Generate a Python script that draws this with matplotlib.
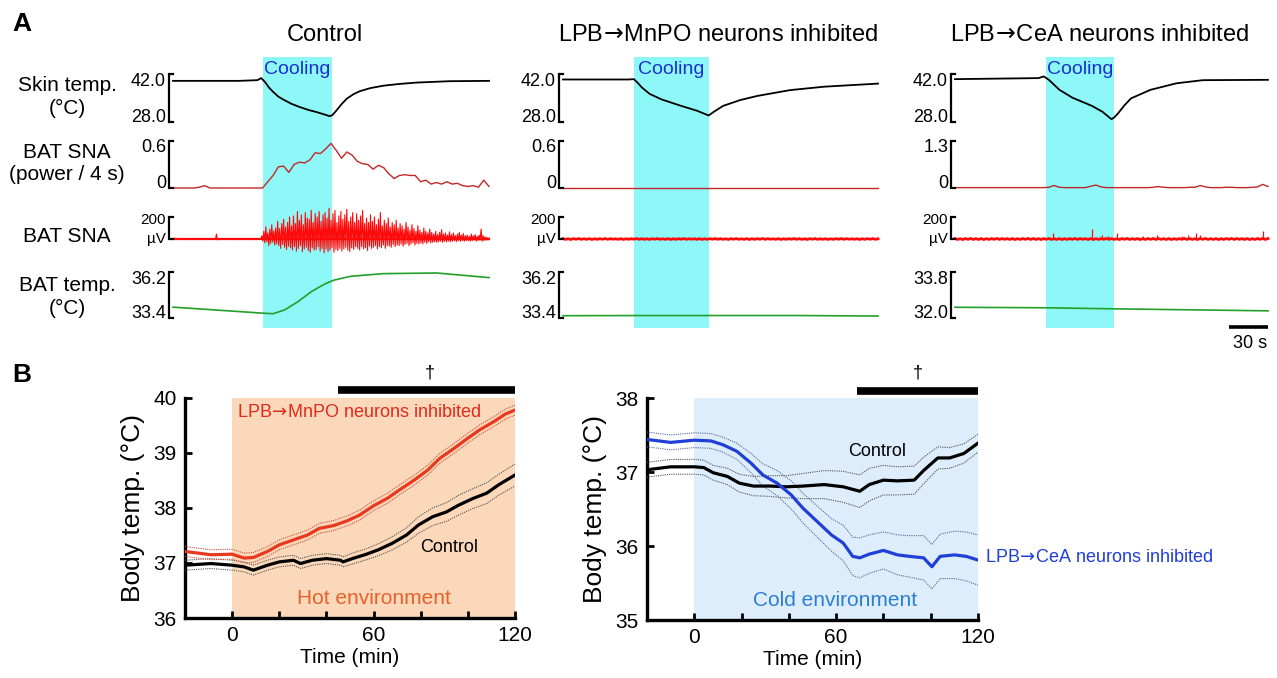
import numpy as np
import matplotlib
matplotlib.use('Agg')
import matplotlib.pyplot as plt
from matplotlib.lines import Line2D

plt.rcParams['font.family'] = ['Liberation Sans', 'DejaVu Sans']
plt.rcParams['mathtext.fontset'] = 'dejavusans'

W, H = 1277, 678

# ================= Panel A data =================
time_span_s = 240
scale_bar_s = 30
cooling_ctrl = (68, 121)
cooling_mnpo = (54, 111)
cooling_cea = (70, 122)

# Skin temperature (deg C)
skin_t_ctrl = [0, 50, 64, 67, 70, 73, 76, 80, 84, 90, 96, 103, 109, 115, 119, 121, 124, 128, 132, 137, 142, 150, 160, 172, 185, 210, 240]
skin_ctrl = [40.0, 40.0, 40.2, 40.8, 39.6, 38.0, 36.8, 35.4, 34.5, 33.3, 32.4, 31.5, 30.9, 30.2, 29.7, 30.0, 31.3, 33.2, 34.8, 36.1, 37.0, 37.9, 38.6, 39.1, 39.5, 39.9, 40.0]
skin_t_mnpo = [0, 50, 54, 57, 60, 66, 75, 90, 102, 111, 115, 122, 135, 148, 173, 199, 240]
skin_mnpo = [40.4, 40.4, 40.5, 39.4, 38.1, 36.2, 34.6, 32.7, 31.3, 29.9, 31.0, 32.7, 34.4, 35.6, 37.3, 38.3, 39.2]
skin_t_cea = [0, 64, 68, 72, 80, 90, 105, 113, 120, 122, 125, 130, 135, 150, 170, 190, 240]
skin_cea = [40.5, 40.8, 41.3, 40.3, 37.4, 35.1, 32.7, 31.0, 28.8, 29.3, 30.5, 32.9, 34.9, 37.4, 39.3, 40.2, 40.3]

# BAT SNA power / 4 s (one value per 4 s bin, 0..240 s)
pow_ctrl = [0.00, 0.00, 0.00, 0.00, 0.00, 0.01, 0.03, 0.00, 0.00, 0.00, 0.00, 0.00, 0.00, 0.00, 0.00, 0.00, 0.00,
            0.00, 0.08, 0.16, 0.27, 0.28, 0.20, 0.30, 0.33, 0.32, 0.36, 0.45, 0.44, 0.50, 0.57, 0.48, 0.38, 0.46,
            0.42, 0.34, 0.31, 0.30, 0.24, 0.29, 0.26, 0.18, 0.12, 0.16, 0.17, 0.16, 0.16, 0.08, 0.10, 0.05, 0.07,
            0.05, 0.08, 0.05, 0.06, 0.03, 0.02, 0.03, 0.01, 0.10, 0.02]
pow_mnpo = [0.00, 0.00, 0.00, 0.00, 0.00, 0.00, 0.00, 0.00, 0.00, 0.00, 0.00, 0.00, 0.00, 0.00, 0.00, 0.00, 0.00,
            0.00, 0.00, 0.00, 0.00, 0.00, 0.00, 0.00, 0.00, 0.00, 0.00, 0.00, 0.00, 0.00, 0.00, 0.00, 0.00, 0.00,
            0.00, 0.00, 0.00, 0.00, 0.00, 0.00, 0.00, 0.00, 0.00, 0.00, 0.00, 0.00, 0.00, 0.00, 0.00, 0.00, 0.00,
            0.00, 0.00, 0.00, 0.00, 0.00, 0.00, 0.00, 0.00, 0.00, 0.00]
pow_cea = [0.01, 0.01, 0.01, 0.01, 0.01, 0.01, 0.01, 0.01, 0.01, 0.01, 0.01, 0.01, 0.01, 0.01, 0.01, 0.01, 0.01,
           0.01, 0.02, 0.07, 0.02, 0.01, 0.01, 0.01, 0.01, 0.01, 0.05, 0.08, 0.03, 0.01, 0.01, 0.01, 0.01, 0.01,
           0.01, 0.01, 0.01, 0.01, 0.02, 0.04, 0.02, 0.01, 0.01, 0.01, 0.01, 0.02, 0.02, 0.07, 0.03, 0.01, 0.01,
           0.01, 0.02, 0.02, 0.01, 0.01, 0.01, 0.02, 0.03, 0.10, 0.04]

# Raw BAT SNA (uV), control: one sample per 0.75 s
raw_dt_ctrl = 0.75
raw_ctrl = [
    # 0 - 66.75 s (quiet)
    4, -5, 6, -3, 5, -6, 3, -4, 6, -5, 4, -3, 5, -6, 4, -5,
    5, -4, 3, -6, 5, -5, 6, -4, 4, -6, 5, -3, 6, -5, 4, -4,
    6, -5, 4, -6, 3, -5, 5, -4, 6, -3, 4, -5, 45, -8, 5, -6,
    4, -5, 6, -4, 5, -3, 4, -6, 5, -5, 6, -4, 3, -5, 5, -6,
    6, -4, 5, -5, 4, -6, 5, -3, 6, -5, 4, -4, 5, -6, 3, -5,
    5, -4, 6, -5, 4, -6, 5, -4, 6, -5,
    # 67.5 s onward (cooling-evoked burst)
    30, -20, 70, -35, 110, -25, 55, -60, 90, -40, 130, -30, 75, -55, 100, -45,
    160, -60, 95, -85, 140, -50, 180, -75, 110, -95, 150, -65, 200, -80, 120, -100,
    210, -70, 140, -110, 250, -85, 170, -60, 220, -115, 130, -90, 240, -75, 190, -105,
    180, -120, 260, -80, 150, -100, 230, -95, 200, -70, 250, -110, 160, -85, 220, -125,
    240, -90, 190, -115, 280, -100, 170, -80, 230, -120, 260, -95, 150, -105, 210, -85,
    250, -110, 180, -90, 220, -75, 270, -100, 160, -115, 200, -80, 240, -95, 150, -70,
    230, -85, 170, -100, 210, -70, 260, -90, 140, -80, 190, -105, 150, -65, 220, -85,
    160, -75, 200, -60, 130, -90, 180, -70, 240, -80, 120, -55, 170, -85, 140, -60,
    190, -65, 110, -75, 150, -50, 130, -70, 170, -55, 100, -60, 140, -45, 120, -65,
    90, -50, 150, -40, 110, -60, 80, -45, 130, -35, 95, -55, 70, -40, 120, -45,
    80, -35, 60, -45, 100, -30, 70, -40, 55, -25, 90, -35, 60, -30, 45, -25,
    70, -30, 40, -25, 60, -20, 85, -30, 45, -20, 55, -25, 35, -20, 65, -25,
    40, -20, 55, -15, 30, -25, 45, -15, 60, -20, 35, -15, 50, -20, 30, -15,
    35, -15, 25, -20, 45, -15, 30, -10, 40, -20, 25, -15, 35, -10, 90, -20,
    30, -15, 20, -10, 15, -10, 10]
# Raw BAT SNA (uV), inhibited: one sample per 2 s plus isolated spikes
raw_dt_inh = 2.0
raw_mnpo = [3, -3, 2, -4, 3, -2, 4, -3, 2, -3, 3, -4, 2, -3, 3, -2, 4, -3, 3, -2, 2, -3, 3, -4, 2, -3, 3, -2, 4, -3,
            3, -3, 2, -4, 3, -2, 4, -3, 2, -3, 3, -4, 2, -3, 3, -2, 4, -3, 3, -2, 2, -3, 3, -4, 2, -3, 3, -2, 4, -3,
            3, -3, 2, -4, 3, -2, 4, -3, 2, -3, 3, -4, 2, -3, 3, -2, 4, -3, 3, -2, 2, -3, 3, -4, 2, -3, 3, -2, 4, -3,
            3, -3, 2, -4, 3, -2, 4, -3, 2, -3, 3, -4, 2, -3, 3, -2, 4, -3, 3, -2, 2, -3, 3, -4, 2, -3, 3, -2, 4, -3, 2]
raw_cea = [4, -4, 3, -5, 4, -3, 5, -4, 3, -4, 4, -5, 3, -4, 4, -3, 5, -4, 4, -3, 3, -4, 4, -5, 3, -4, 4, -3, 5, -4,
           4, -4, 3, -5, 4, -3, 5, -4, 3, -4, 4, -5, 3, -4, 4, -3, 5, -4, 4, -3, 3, -4, 4, -5, 3, -4, 4, -3, 5, -4,
           4, -4, 3, -5, 4, -3, 5, -4, 3, -4, 4, -5, 3, -4, 4, -3, 5, -4, 4, -3, 3, -4, 4, -5, 3, -4, 4, -3, 5, -4,
           4, -4, 3, -5, 4, -3, 5, -4, 3, -4, 4, -5, 3, -4, 4, -3, 5, -4, 4, -3, 3, -4, 4, -5, 3, -4, 4, -3, 5, -4, 4]
spike_t_cea = [75, 105, 113, 117, 124, 144, 155, 174, 179, 185, 188, 236]
spike_uv_cea = [55, 90, 36, 30, 50, 30, 35, 28, 35, 50, 35, 70]

# BAT temperature (deg C)
bat_t_ctrl = [0, 30, 67, 76, 85, 95, 105, 115, 122, 135, 160, 200, 240]
bat_ctrl = [34.06, 33.90, 33.70, 33.66, 33.90, 34.40, 35.00, 35.46, 35.70, 35.94, 36.10, 36.14, 35.86]
bat_t_mnpo = [0, 60, 120, 180, 240]
bat_mnpo = [33.54, 33.55, 33.55, 33.55, 33.52]
bat_t_cea = [0, 70, 120, 180, 240]
bat_cea = [32.42, 32.40, 32.36, 32.32, 32.28]

ARROW = r'$\!\rightarrow\!$'
row_names = ['Skin temp.\n(°C)', 'BAT SNA\n(power / 4 s)', 'BAT SNA', 'BAT temp.\n(°C)']
col_titles = ['Control', 'LPB' + ARROW + 'MnPO neurons inhibited', 'LPB' + ARROW + 'CeA neurons inhibited']

# ================= Panel B data =================
hot_t_inh = [-20, -9, 0, 5, 9, 15, 20, 26, 32, 37, 43, 49, 54, 60, 66, 71, 77, 83, 88, 94, 100, 105, 111, 116, 120]
hot_inh = [37.21, 37.15, 37.16, 37.09, 37.10, 37.21, 37.33, 37.42, 37.51, 37.63, 37.68, 37.77, 37.87, 38.04, 38.18,
           38.33, 38.50, 38.69, 38.90, 39.08, 39.27, 39.42, 39.57, 39.71, 39.78]
hot_inh_sem = [0.09, 0.09, 0.09, 0.09, 0.09, 0.09, 0.09, 0.09, 0.09, 0.09, 0.09, 0.09, 0.09, 0.09, 0.09,
               0.09, 0.09, 0.09, 0.09, 0.09, 0.09, 0.09, 0.09, 0.09, 0.09]
hot_t_ctl = [-20, -9, 0, 5, 9, 15, 20, 26, 29, 34, 40, 46, 47, 51, 57, 62, 68, 74, 79, 85, 91, 96, 102, 108, 113, 120]
hot_ctl = [36.96, 36.99, 36.96, 36.93, 36.87, 36.96, 37.02, 37.05, 36.99, 37.05, 37.08, 37.05, 37.02, 37.08, 37.16,
           37.24, 37.36, 37.51, 37.69, 37.84, 37.93, 38.05, 38.17, 38.27, 38.42, 38.60]
hot_ctl_sem = [0.09, 0.09, 0.09, 0.09, 0.09, 0.09, 0.09, 0.09, 0.09, 0.09, 0.09, 0.09, 0.09, 0.10, 0.10,
               0.11, 0.12, 0.13, 0.15, 0.16, 0.17, 0.18, 0.18, 0.19, 0.19, 0.20]

cold_t_inh = [-20, -10, 0, 7, 12, 18, 24, 29, 35, 41, 46, 52, 58, 63, 67, 70, 74, 80, 86, 91, 97, 100.5, 104, 110, 115, 120]
cold_inh = [37.44, 37.40, 37.43, 37.42, 37.37, 37.28, 37.12, 36.96, 36.85, 36.69, 36.51, 36.33, 36.15, 36.04, 35.86,
            35.84, 35.89, 35.94, 35.88, 35.86, 35.84, 35.72, 35.86, 35.88, 35.86, 35.81]
cold_inh_sem = [0.10, 0.10, 0.10, 0.10, 0.10, 0.11, 0.13, 0.15, 0.17, 0.19, 0.20, 0.21, 0.22, 0.24, 0.26,
                0.27, 0.26, 0.25, 0.27, 0.28, 0.30, 0.30, 0.30, 0.32, 0.33, 0.34]
cold_t_ctl = [-20, -10, 0, 4, 8, 14, 19, 25, 32, 39, 46, 55, 63, 70, 74, 80, 86, 93, 97, 103, 108, 114, 120]
cold_ctl = [37.03, 37.07, 37.07, 37.06, 36.99, 36.94, 36.85, 36.81, 36.81, 36.80, 36.81, 36.83, 36.80, 36.74, 36.83,
            36.89, 36.88, 36.89, 37.02, 37.19, 37.19, 37.25, 37.39]
cold_ctl_sem = [0.10, 0.10, 0.10, 0.10, 0.10, 0.11, 0.12, 0.13, 0.14, 0.15, 0.17, 0.19, 0.21, 0.22, 0.22,
                0.20, 0.19, 0.19, 0.18, 0.15, 0.14, 0.13, 0.12]

env_span = (0, 120)
sig_bar_hot = (45, 120)
sig_bar_cold = (69, 120)

# ================= Drawing =================
fig = plt.figure(figsize=(W / 100, H / 100), dpi=100)

def fig_axes(x0, y0, x1, y1):
    ax = fig.add_axes([x0 / W, 1 - y1 / H, (x1 - x0) / W, (y1 - y0) / H])
    ax.axis('off')
    ax.patch.set_visible(False)
    return ax

def fig_line(xs, ys, **kw):
    fig.add_artist(Line2D([x / W for x in xs], [1 - y / H for y in ys], transform=fig.transFigure, **kw))

def fig_text(x, y, s, **kw):
    fig.text(x / W, 1 - y / H, s, **kw)

CYAN = '#8ef8f8'
COOL_BLUE = '#1c2fd0'
rows_px = [(74, 122), (141, 188), (217, 239), (272, 318)]

columns = [
    dict(x0=173, x1=489, tx=325, cool=cooling_ctrl,
         skin=(skin_t_ctrl, skin_ctrl), pw=pow_ctrl, pmax='0.6', pmaxv=0.6,
         raw=(raw_ctrl, raw_dt_ctrl), spikes=None,
         bat=(bat_t_ctrl, bat_ctrl), blim=(33.4, 36.2)),
    dict(x0=563, x1=878, tx=718, cool=cooling_mnpo,
         skin=(skin_t_mnpo, skin_mnpo), pw=pow_mnpo, pmax='0.6', pmaxv=0.6,
         raw=(raw_mnpo, raw_dt_inh), spikes=None,
         bat=(bat_t_mnpo, bat_mnpo), blim=(33.4, 36.2)),
    dict(x0=955, x1=1268, tx=1100, cool=cooling_cea,
         skin=(skin_t_cea, skin_cea), pw=pow_cea, pmax='1.3', pmaxv=1.3,
         raw=(raw_cea, raw_dt_inh), spikes=(spike_t_cea, spike_uv_cea),
         bat=(bat_t_cea, bat_cea), blim=(32.0, 33.8)),
]

for ci, col in enumerate(columns):
    x0, x1 = col['x0'], col['x1']
    bg = fig_axes(x0, 57, x1, 328)
    bg.set_xlim(0, time_span_s)
    bg.set_ylim(0, 1)
    bg.axvspan(col['cool'][0], col['cool'][1], color=CYAN, lw=0, zorder=0)
    bg.text(sum(col['cool']) / 2, (328 - 69) / (328 - 57), 'Cooling', color=COOL_BLUE,
            ha='center', va='center', fontsize=14)
    fig_text(col['tx'], 35, col_titles[ci], ha='center', va='center', fontsize=17)

    axs = [fig_axes(x0, r[0], x1, r[1]) for r in rows_px]
    for a in axs:
        a.set_xlim(0, time_span_s)
    # skin
    axs[0].set_ylim(28.0, 42.0)
    axs[0].plot(col['skin'][0], col['skin'][1], color='black', lw=1.3, clip_on=False)
    # power
    axs[1].set_ylim(0, col['pmaxv'])
    tp = np.arange(len(col['pw'])) * 4
    axs[1].plot(tp, col['pw'], color='#c02828', lw=1.0, clip_on=False)
    # raw
    axs[2].set_ylim(0, 200)
    rv, rdt = col['raw']
    tr = np.arange(len(rv)) * rdt
    axs[2].plot(tr, rv, color='#ff0a0a', lw=0.8 if ci == 0 else 2.0, clip_on=False)
    if ci == 0:
        axs[2].plot(tr, np.zeros(len(tr)), color='#ff0a0a', lw=1.6, clip_on=False)
    if col['spikes'] is not None:
        axs[2].vlines(col['spikes'][0], 0, col['spikes'][1], color='#ff0a0a', lw=0.9, clip_on=False)
    # BAT temp
    axs[3].set_ylim(*col['blim'])
    axs[3].plot(col['bat'][0], col['bat'][1], color='#22a02a', lw=1.2, clip_on=False)

    # brackets and scale labels
    xb = x0 - 4
    labels = [('42.0', '28.0'), (col['pmax'], '0'), ('200', 'µV'),
              ('%.1f' % col['blim'][1], '%.1f' % col['blim'][0])]
    for ri, (top, bot) in enumerate(rows_px):
        fig_line([x0, xb, xb, x0], [top, top, bot, bot], color='black', lw=1.6,
                 solid_joinstyle='miter')
        lt, lb = labels[ri]
        if ri == 2:
            fig_text(xb - 3, top + 3, lt, ha='right', va='center', fontsize=11)
            fig_text(xb - 3, bot, lb, ha='right', va='center', fontsize=11)
        else:
            fig_text(xb - 3, top + 7, lt, ha='right', va='center', fontsize=13)
            fig_text(xb - 3, bot - 5, lb, ha='right', va='center', fontsize=13)

# row labels
for (top, bot), name, yc in zip(rows_px, row_names, [97, 164, 237, 297]):
    fig_text(67, yc, name, ha='center', va='center', fontsize=15, linespacing=1.2)

# scale bar
sb = fig_axes(955, 320, 1268, 334)
sb.set_xlim(0, time_span_s)
sb.set_ylim(0, 1)
sb.plot([time_span_s - scale_bar_s, time_span_s], [0.5, 0.5], color='black', lw=2.6,
        solid_capstyle='butt')
fig_text(1250, 343, '%d s' % scale_bar_s, ha='center', va='center', fontsize=13)

fig_text(22, 24, 'A', ha='center', va='center', fontsize=19, fontweight='bold')
fig_text(22, 375, 'B', ha='center', va='center', fontsize=19, fontweight='bold')

# ---------- Panel B ----------
def body_axes(x0, y0, x1, y1):
    ax = fig.add_axes([x0 / W, 1 - y1 / H, (x1 - x0) / W, (y1 - y0) / H])
    for s in ['top', 'right']:
        ax.spines[s].set_visible(False)
    for s in ['left', 'bottom']:
        ax.spines[s].set_linewidth(2.4)
    ax.set_xlim(-20, 120)
    ax.set_xticks([0, 60, 120])
    ax.set_xticks([20, 40, 80, 100], minor=True)
    ax.tick_params(which='both', direction='in', width=2.0, labelsize=15)
    ax.tick_params(which='major', length=5, pad=6)
    ax.tick_params(which='minor', length=5)
    ax.set_xlabel('Time (min)', fontsize=15, labelpad=2)
    ax.set_ylabel('Body temp. (°C)', fontsize=19, labelpad=6)
    return ax

def mean_sem(ax, t, m, s, color, semcolor):
    m = np.array(m)
    s = np.array(s)
    ax.plot(t, m + s, color=semcolor, lw=0.8, ls=(0, (1, 1)), zorder=3)
    ax.plot(t, m - s, color=semcolor, lw=0.8, ls=(0, (1, 1)), zorder=3)
    ax.plot(t, m, color=color, lw=2.3, zorder=4)

# hot
axh = body_axes(185, 398, 515, 618)
axh.set_ylim(36, 40)
axh.set_yticks([36, 37, 38, 39, 40])
axh.axvspan(*env_span, color='#fad8b9', lw=0, zorder=0)
mean_sem(axh, hot_t_ctl, hot_ctl, hot_ctl_sem, 'black', '#555555')
mean_sem(axh, hot_t_inh, hot_inh, hot_inh_sem, '#e8381e', '#d05040')
axh.plot(sig_bar_hot, [40.15, 40.15], color='black', lw=5.5, solid_capstyle='butt', clip_on=False)
axh.text(sum(sig_bar_hot) / 2 + 1.5, 40.45, '†', ha='center', va='center', fontsize=13)
axh.text(2.2, 39.73, 'LPB' + ARROW + 'MnPO neurons inhibited', color='#e02a1e', fontsize=13, ha='left', va='center')
axh.text(92, 37.29, 'Control', color='black', fontsize=13, ha='center', va='center')
axh.text(60, 36.36, 'Hot environment', color='#e8602a', fontsize=15, ha='center', va='center')

# cold
axc = body_axes(647, 398, 978, 620)
axc.set_ylim(35, 38)
axc.set_yticks([35, 36, 37, 38])
axc.axvspan(*env_span, color='#ddedfb', lw=0, zorder=0)
mean_sem(axc, cold_t_ctl, cold_ctl, cold_ctl_sem, 'black', '#555555')
mean_sem(axc, cold_t_inh, cold_inh, cold_inh_sem, '#1f3fd6', '#5a6a9a')
axc.plot(sig_bar_cold, [38.09, 38.09], color='black', lw=5.5, solid_capstyle='butt', clip_on=False)
axc.text(sum(sig_bar_cold) / 2, 38.34, '†', ha='center', va='center', fontsize=13)
axc.text(77.2, 37.28, 'Control', color='black', fontsize=13, ha='center', va='center')
axc.text(122.8, 35.85, 'LPB' + ARROW + 'CeA neurons inhibited', color='#1f3fd6', fontsize=13, ha='left', va='center')
axc.text(59.4, 35.27, 'Cold environment', color='#2a7fd4', fontsize=15, ha='center', va='center')

fig.savefig('out.png', dpi=100)
